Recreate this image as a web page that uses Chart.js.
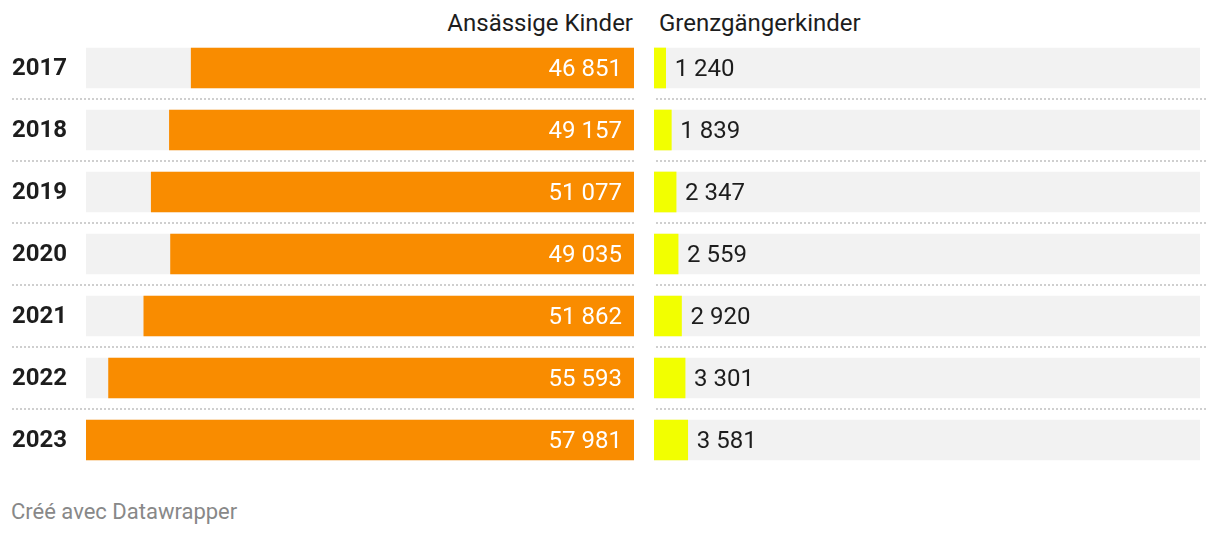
<!DOCTYPE html>
<html><head><meta charset="utf-8">
<script src="https://cdn.jsdelivr.net/npm/chart.js@4"></script>
<style>
html,body{margin:0;padding:0;background:#fff;width:1220px;height:536px;overflow:hidden;font-family:Roboto,sans-serif;}
.hdr{position:absolute;top:8px;font-size:24px;color:#1d1d1d;line-height:30px;white-space:nowrap;}
#h1{right:calc(1220px - 633px);}
#h2{left:659px;}
#foot{position:absolute;left:11px;top:498px;font-size:22px;color:#888;line-height:28px;}
#c1wrap{position:absolute;left:0;top:37px;width:634px;height:434px;}
#c2wrap{position:absolute;left:654px;top:37px;width:566px;height:434px;}
</style></head>
<body>
<div class="hdr" id="h1">Ansässige Kinder</div>
<div class="hdr" id="h2">Grenzgängerkinder</div>
<div id="c1wrap"><canvas id="c1"></canvas></div>
<div id="c2wrap"><canvas id="c2"></canvas></div>
<div id="foot">Créé avec Datawrapper</div>
<script>
const years = ['2017','2018','2019','2020','2021','2022','2023'];
const ansaessige = [46851, 49157, 51077, 49035, 51862, 55593, 57981];
const grenzgaenger = [1240, 1839, 2347, 2559, 2920, 3301, 3581];
const scaleMax = 57981;

const fmt = v => String(v).replace(/\B(?=(\d{3})+(?!\d))/g, ' ');
const FONT = 'Roboto, sans-serif';

function dotted(absStart, absEnd, canvasLeft) {
  return {
    id: 'dotted',
    beforeDatasetsDraw(chart) {
      const y = chart.scales.y, ctx = chart.ctx;
      ctx.save();
      ctx.strokeStyle = '#cfcfcf';
      ctx.lineWidth = 2;
      ctx.setLineDash([2, 2]);
      const sx = Math.max(absStart, canvasLeft) - canvasLeft;
      ctx.lineDashOffset = (((canvasLeft + sx) - absStart) % 4);
      for (let i = 0; i < years.length - 1; i++) {
        const yy = Math.round((y.getPixelForValue(i) + y.getPixelForValue(i + 1)) / 2);
        ctx.beginPath();
        ctx.moveTo(sx, yy);
        ctx.lineTo(absEnd - canvasLeft, yy);
        ctx.stroke();
      }
      ctx.restore();
    }
  };
}

function valueLabels(side) {
  return {
    id: 'vals',
    afterDatasetsDraw(chart) {
      const meta = chart.getDatasetMeta(0), ctx = chart.ctx;
      const data = chart.data.datasets[0].data;
      ctx.save();
      ctx.font = '24px ' + FONT;
      ctx.textBaseline = 'middle';
      meta.data.forEach((bar, i) => {
        const t = fmt(data[i]);
        if (side === 'left') {
          ctx.fillStyle = '#ffffff';
          ctx.textAlign = 'right';
          ctx.fillText(t, bar.base - 12, bar.y + 2);
        } else {
          ctx.fillStyle = '#1d1d1d';
          ctx.textAlign = 'left';
          ctx.fillText(t, bar.x + 9, bar.y + 2);
        }
      });
      ctx.restore();
    }
  };
}

const common = {
  indexAxis: 'y',
  responsive: true,
  maintainAspectRatio: false,
  animation: false,
  events: [],
  plugins: { legend: { display: false }, tooltip: { enabled: false }, title: { display: false } },
};

new Chart(document.getElementById('c1'), {
  type: 'bar',
  data: {
    labels: years,
    datasets: [
      { data: ansaessige, backgroundColor: '#f98c00', barThickness: 40, grouped: false, order: 1 },
      { data: years.map(() => scaleMax), backgroundColor: '#f2f2f2', barThickness: 40, grouped: false, order: 2 }
    ]
  },
  options: Object.assign({}, common, {
    layout: { autoPadding: false, padding: { left: 12, right: 0, top: 0, bottom: 0 } },
    scales: {
      x: { display: false, reverse: true, min: 0, max: scaleMax },
      y: {
        grid: { display: false }, border: { display: false },
        ticks: { crossAlign: 'far', padding: 0, labelOffset: 1, color: '#1d1d1d', font: { family: FONT, size: 24, weight: 'bold' } },
        afterFit(s) { s.width = 74; s.paddingTop = 0; s.paddingBottom = 0; }
      }
    }
  }),
  plugins: [dotted(12, 1208, 0), valueLabels('left')]
});

new Chart(document.getElementById('c2'), {
  type: 'bar',
  data: {
    labels: years,
    datasets: [
      { data: grenzgaenger, backgroundColor: '#f2ff00', barThickness: 40, grouped: false, order: 1 },
      { data: years.map(() => scaleMax), backgroundColor: '#f2f2f2', barThickness: 40, grouped: false, order: 2 }
    ]
  },
  options: Object.assign({}, common, {
    layout: { autoPadding: false, padding: { left: 0, right: 20, top: 0, bottom: 0 } },
    scales: {
      x: { display: false, min: 0, max: scaleMax },
      y: { display: false }
    }
  }),
  plugins: [dotted(12, 1208, 654), valueLabels('right')]
});
</script>
</body></html>
